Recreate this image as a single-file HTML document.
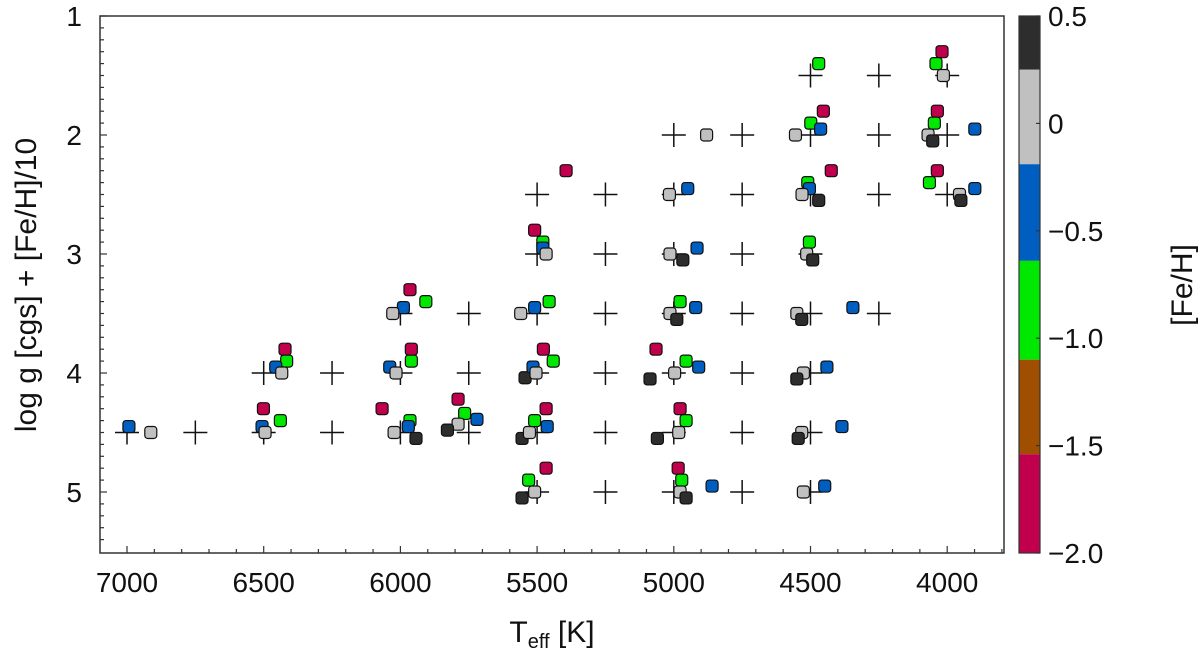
<!DOCTYPE html>
<html><head><meta charset="utf-8"><style>
body{margin:0;background:#fff;width:1200px;height:655px;overflow:hidden}
svg text{font-family:"Liberation Sans",sans-serif;fill:#111}
</style></head><body>
<svg id="chart" width="1200" height="655" xmlns="http://www.w3.org/2000/svg"></svg>
<script>
const gridLogg=[1.5,1.5,1.5, 2,2,2,2,2, 2.5,2.5,2.5,2.5,2.5,2.5,2.5, 3,3,3,3,3, 3.5,3.5,3.5,3.5,3.5,3.5,3.5,3.5, 4,4,4,4,4,4,4,4,4, 4.5,4.5,4.5,4.5,4.5,4.5,4.5,4.5,4.5,4.5,4.5, 5,5,5,5,5];
const gridTeff=[4500,4250,4000, 5000,4750,4500,4250,4000, 5500,5250,5000,4750,4500,4250,4000, 5500,5250,5000,4750,4500, 6000,5750,5500,5250,5000,4750,4500,4250, 6500,6250,6000,5750,5500,5250,5000,4750,4500, 7000,6750,6500,6250,6000,5750,5500,5250,5000,4750,4500, 5500,5250,5000,4750,4500];
const starTeff=[6993,6913,6501,6439,6506,6495,6422,6416,6456,6434,
5965,5907,5989,6028,5960,5960,6039,6016,6067,5965,5971,6023,5943,
5789,5765,5720,5789,5828,
5544,5477,5441,5515,5504,5555,5528,5509,5463,5467,5467,5531,5509,5555,
5509,5479,5479,5467,5560,5509,5456,5394,
5016,4949,4880,5014,4967,4915,4977,4920,5014,4989,
5065,4955,4909,4997,5087,4977,4955,4982,5060,4984,4971,4977,4955,4860,
4470,4453,4499,4463,4555,4424,4510,4504,4531,4470,4504,4514,4492,
4550,4532,4345,4526,4550,4440,4532,4545,4385,4526,4448,
4019,4041,4014,4036,4047,4070,4053,3899,4036,4065,3955,3950,3899];
const starLogg=[4.5,4.5,4.5,4.5,4.5,4.5,4,4,4,4,
3.5,3.5,3.5,3.5,4,4,4,4,4.5,4.5,4.5,4.5,4.5,
4.42,4.44,4.44,4.43,4.43,
3.99,4,4,4,4,4.5,4.5,4.5,4.5,4.5,5,5,5,5,
3,3,3,3,3.5,3.5,3.5,2.5,
2.5,2.5,2,3,3,3,3.5,3.5,3.5,3.5,
4,4,4,4,4,4.5,4.5,4.5,4.5,5,5,5,5,5,
1.5,2,2,2,2,2.5,2.5,2.5,2.5,2.5,3,3,3,
3.5,3.5,3.5,4,4,4,4.5,4.5,4.5,5,5,
1.5,1.5,1.5,2,2,2,2,2,2.5,2.5,2.5,2.5,2.5];
const starFeh=[-0.5,0,-2,-1,-0.5,0,-2,-1,-0.5,0,
-2,-1,-0.5,0,-2,-1,-0.5,0,-2,-1,-0.5,0,0.5,
-2,-1,-0.5,0,0.5,
0.5,-2,-1,-0.5,0,0.5,0,-1,-0.5,-2,-2,-1,0,0.5,
-2,-1,-0.5,0,0,-0.5,-1,-2,
0,-0.5,0,0,0.5,-0.5,-1,-0.5,0,0.5,
-2,-1,-0.5,0,0.5,-2,-1,0,0.5,-2,-1,0,0.5,-0.5,
-1,-2,-1,-0.5,0,-2,-1,-0.5,0,0.5,-1,0,0.5,
0,0.5,-0.5,0,0.5,-0.5,0,0.5,-0.5,0,-0.5,
-2,-1,0,-2,-1,0,0.5,-0.5,-2,-1,0,0.5,-0.5];
const xTicks=[7000,6500,6000,5500,5000,4500,4000];
const yTicks=[1,2,3,4,5];
const cbTicks=[0.5,0,-0.5,-1.0,-1.5,-2.0];
const cbLabels=["0.5","0","\u22120.5","\u22121.0","\u22121.5","\u22122.0"];
const cbBounds=[0.5,0.25,-0.19,-0.64,-1.1,-1.54,-2];
const cbColors=["#2d2d2d","#c0c0c0","#005ec0","#00e800","#a04f00","#c0004c"];

const L=100,R=1004,T=16,B=553;
const x=t=>127+(7000-t)/500*136.7;
const y=v=>16+(v-1)*119;
const cy=f=>16+(0.5-f)/2.5*537;
const NS="http://www.w3.org/2000/svg";
const svg=document.getElementById('chart');
function mk(tag,a,parent){const e=document.createElementNS(NS,tag);for(const k in a)e.setAttribute(k,a[k]);(parent||svg).appendChild(e);return e;}
function col(f){for(let i=0;i<6;i++){if(f>=cbBounds[i+1])return cbColors[i];}return cbColors[5];}

const frame=mk('rect',{x:L,y:T,width:R-L,height:B-T,fill:'none',stroke:'#333','stroke-width':1.5});


for(let t=7000;t>=3800;t-=100){const major=t%500===0;const tk=mk('line',{x1:x(t),x2:x(t),y1:B,y2:B-(major?7:4),stroke:'#333','stroke-width':1.2});

}
xTicks.forEach(t=>{const tx=mk('text',{x:x(t),y:592,'text-anchor':'middle','font-size':28});tx.textContent=t;

});
for(let i=10;i<=54;i++){const v=i/10;const major=i%10===0;const tk=mk('line',{x1:L,x2:L+(major?7:4),y1:y(v),y2:y(v),stroke:'#333','stroke-width':1.2});

}
yTicks.forEach(v=>{const tx=mk('text',{x:82,y:y(v)+10,'text-anchor':'end','font-size':28});tx.textContent=v;

});
gridTeff.forEach((t,i)=>{const g=mk('path',{d:`M${x(t)-12},${y(gridLogg[i])}h24M${x(t)},${y(gridLogg[i])-12}v24`,stroke:'#111','stroke-width':1.5,fill:'none'});

});
starTeff.forEach((t,i)=>{const v=starLogg[i]+starFeh[i]/10;const r=mk('rect',{x:x(t)-6,y:y(v)-6,width:12,height:12,rx:3,fill:col(starFeh[i]),stroke:'#111','stroke-width':1.2});

});
for(let i=0;i<6;i++){const s=mk('rect',{x:1019,y:cy(cbBounds[i]),width:21,height:cy(cbBounds[i+1])-cy(cbBounds[i]),fill:cbColors[i]});

}
const cbf=mk('rect',{x:1019,y:16,width:21,height:537,fill:'none',stroke:'#333','stroke-width':1.2});


cbTicks.forEach((f,i)=>{const tk=mk('line',{x1:1036,x2:1040,y1:cy(f),y2:cy(f),stroke:'#333','stroke-width':1.2});


const tx=mk('text',{x:1048,y:cy(f)+10,'font-size':28});tx.textContent=cbLabels[i];

});
const ct=mk('text',{x:1192,y:285,'font-size':30,'text-anchor':'middle',transform:'rotate(-90 1192 285)'});ct.textContent='[Fe/H]';


const yt=mk('text',{x:36,y:285,'font-size':30,'text-anchor':'middle',transform:'rotate(-90 36 285)'});yt.textContent='log g [cgs] + [Fe/H]/10';


const xt=mk('text',{x:552,y:642,'font-size':30,'text-anchor':'middle'});
xt.innerHTML='T<tspan font-size="20" dy="6">eff</tspan><tspan dy="-6"> [K]</tspan>';


</script>
</body></html>
